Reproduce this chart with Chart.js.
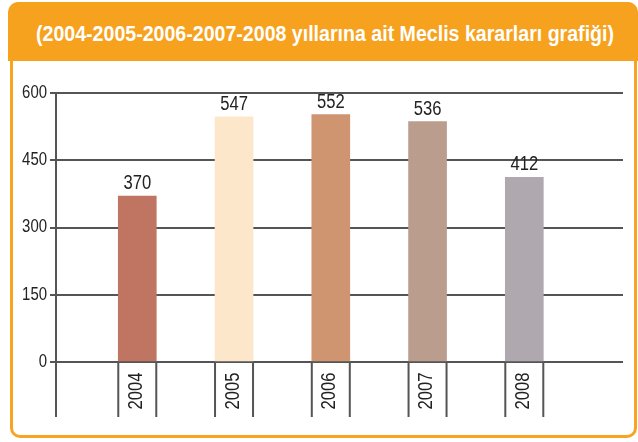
<!DOCTYPE html>
<html>
<head>
<meta charset="utf-8">
<script src="https://cdn.jsdelivr.net/npm/chart.js@4.4.1/dist/chart.umd.min.js"></script>
<style>
  html, body { margin: 0; padding: 0; background: #ffffff; }
  body { width: 638px; height: 442px; position: relative; overflow: hidden; }
  #frame {
    position: absolute; left: 10px; top: 2px; width: 621px; height: 430px;
    border: 3px solid #F7A421; border-radius: 10px; background: #fff;
  }
  #header {
    position: absolute; left: 8px; top: 2px; width: 630px; height: 59px;
    background: #F7A21E; border-radius: 10px 10px 0 0;
  }
  #title {
    position: absolute; left: 0; top: 21px; white-space: nowrap;
    color: #fff; font-family: "Liberation Sans", Arial, sans-serif;
    font-weight: bold; font-size: 22px; line-height: 26px;
    transform-origin: 0 0;
  }
  #wrap { position: absolute; left: 0; top: 0; width: 638px; height: 442px; }
</style>
</head>
<body>
<div id="frame"></div>
<div id="header"></div>
<span id="title">(2004-2005-2006-2007-2008 yıllarına ait Meclis kararları grafiği)</span>
<div id="wrap"><canvas id="c" width="638" height="442"></canvas></div>
<script>
const categories = ['2004', '2005', '2006', '2007', '2008'];
const values = [370, 547, 552, 536, 412];
const yTicks = [0, 150, 300, 450, 600];
const barColors = ['#C07462', '#FDE7CB', '#CF9570', '#BB9D8E', '#B0A8AF'];

// fit title into its measured extent (x 36 .. 614)
(function () {
  const t = document.getElementById('title');
  const w = t.getBoundingClientRect().width;
  const target = 578;
  const s = target / w;
  t.style.left = '36px';
  t.style.transform = 'scaleX(' + s + ')';
})();

const FONT = '"Liberation Sans", Arial, sans-serif';
const NARROW = 0.83;

function narrowText(ctx, text, x, y, size, align, baseline, rotate) {
  ctx.save();
  ctx.translate(x, y);
  if (rotate) ctx.rotate(rotate);
  ctx.scale(NARROW, 1);
  ctx.fillStyle = '#222';
  ctx.font = size + 'px ' + FONT;
  ctx.textAlign = align;
  ctx.textBaseline = baseline;
  ctx.fillText(text, 0, 0);
  ctx.restore();
}

const decor = {
  id: 'decor',
  afterDatasetsDraw(chart) {
    const ctx = chart.ctx;
    const area = chart.chartArea;
    const meta = chart.getDatasetMeta(0);
    const yScale = chart.scales.y;
    const zeroY = yScale.getPixelForValue(0);
    const bottom = 417;
    ctx.save();
    ctx.strokeStyle = '#555';
    ctx.lineWidth = 2;
    ctx.beginPath();
    ctx.moveTo(area.left, zeroY);
    ctx.lineTo(area.left, bottom);
    ctx.stroke();
    // y tick labels
    yTicks.forEach(v => {
      narrowText(ctx, String(v), area.left - 9, yScale.getPixelForValue(v), 18, 'right', 'middle');
    });
    meta.data.forEach((bar, i) => {
      const half = bar.width / 2;
      ctx.strokeStyle = '#555';
      ctx.lineWidth = 2;
      ctx.beginPath();
      ctx.moveTo(bar.x - half, zeroY + 1);
      ctx.lineTo(bar.x - half, bottom);
      ctx.moveTo(bar.x + half, zeroY + 1);
      ctx.lineTo(bar.x + half, bottom);
      ctx.stroke();
      narrowText(ctx, categories[i], bar.x - 1, 391, 20, 'center', 'middle', -Math.PI / 2);
      narrowText(ctx, String(values[i]), bar.x, bar.y - 7, 20, 'center', 'alphabetic');
    });
    ctx.restore();
  }
};

new Chart(document.getElementById('c'), {
  type: 'bar',
  data: {
    datasets: [{
      data: values.map((v, i) => ({ x: i, y: v })),
      backgroundColor: barColors,
      borderWidth: 0,
      barThickness: 38
    }]
  },
  options: {
    responsive: false,
    animation: false,
    layout: { padding: { left: 0, right: 15, top: 93, bottom: 80 } },
    plugins: { legend: { display: false }, tooltip: { enabled: false }, title: { display: false } },
    scales: {
      x: {
        type: 'linear',
        offset: false,
        min: -0.84,
        max: 5.02,
        display: false
      },
      y: {
        min: 0,
        max: 600,
        afterBuildTicks(scale) { scale.ticks = yTicks.map(v => ({ value: v })); },
        afterFit(scale) { scale.width = 56; },
        ticks: { display: false },
        grid: { color: '#555', lineWidth: 2, tickLength: 6, drawTicks: true },
        border: { display: true, color: '#555', width: 2 }
      }
    }
  },
  plugins: [decor]
});
</script>
</body>
</html>
